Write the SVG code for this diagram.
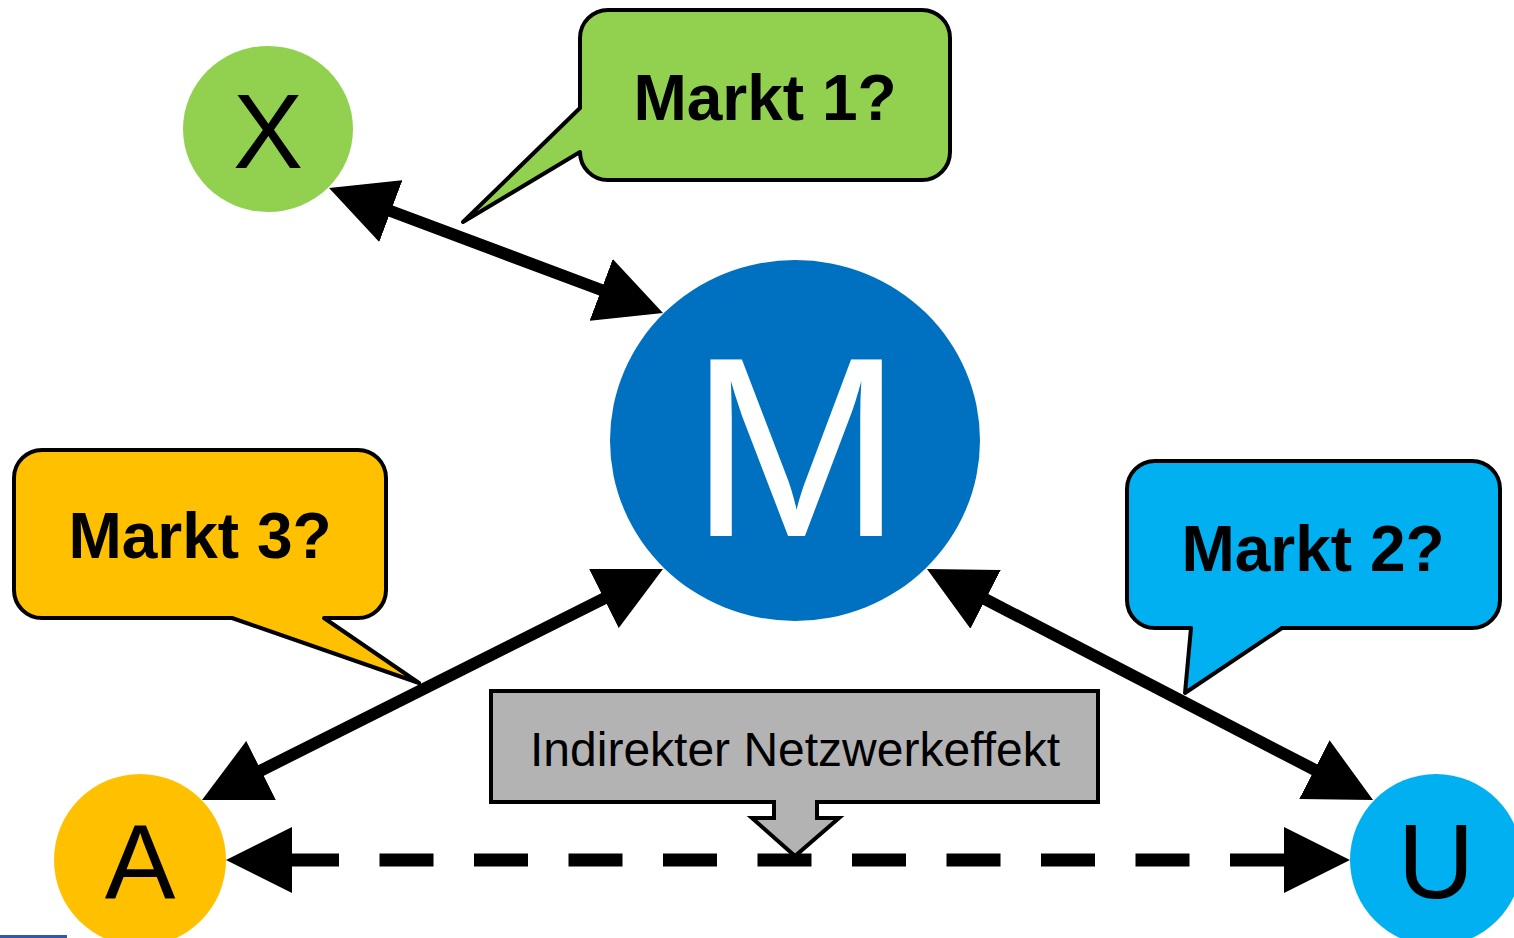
<svg xmlns="http://www.w3.org/2000/svg" width="1514" height="938" viewBox="0 0 1514 938">
<style>
.lbl{font-family:"Liberation Sans",Arial,sans-serif;fill:#000}
.big{font-family:"Liberation Sans",Arial,sans-serif;text-anchor:middle}
.mk{font-family:"Liberation Sans",Arial,sans-serif;font-weight:bold;font-size:64px;text-anchor:middle;fill:#000}
.call{stroke:#000;stroke-width:4;stroke-linejoin:round}
.conn{stroke:#000;stroke-width:12;fill:none}
</style>
<defs>
<marker id="ah" viewBox="0 0 66 66" refX="26" refY="33" markerWidth="66" markerHeight="66" markerUnits="userSpaceOnUse" orient="auto-start-reverse">
<path d="M0,0 L66,33 L0,66 Z" fill="#000"/>
</marker>
</defs>
<rect width="1514" height="938" fill="#fff"/>
<rect x="0" y="935" width="67" height="3" fill="#2e5aa8"/>

<g id="node-X">
<ellipse cx="268" cy="129" rx="85" ry="83" fill="#92d050"/>
<text class="big" x="268" y="168" font-size="105" fill="#000">X</text>
</g>
<g id="node-M">
<ellipse cx="795" cy="440.5" rx="185" ry="180.5" fill="#0070c0"/>
<text class="big" x="796" y="536" font-size="256" fill="#fff">M</text>
</g>
<g id="node-A">
<circle cx="140" cy="860" r="86" fill="#ffc000"/>
<text class="big" x="140" y="898" font-size="106" fill="#000">A</text>
</g>
<g id="node-U">
<circle cx="1436" cy="860" r="86" fill="#00b0f0"/>
<text class="big" x="1436" y="898" font-size="106" fill="#000">U</text>
</g>

<g id="callout-markt1">
<path class="call" fill="#92d050" d="M608,10 H922 A28,28 0 0 1 950,38 V152 A28,28 0 0 1 922,180 H608 A28,28 0 0 1 580,152 L463,222 L580,108 V38 A28,28 0 0 1 608,10 Z"/>
<text class="mk" x="765" y="120">Markt 1?</text>
</g>
<g id="callout-markt2">
<path class="call" fill="#00b0f0" d="M1155,461 H1472 A28,28 0 0 1 1500,489 V600 A28,28 0 0 1 1472,628 H1282 L1185,693 L1191,628 H1155 A28,28 0 0 1 1127,600 V489 A28,28 0 0 1 1155,461 Z"/>
<text class="mk" x="1313" y="571">Markt 2?</text>
</g>
<g id="callout-markt3">
<path class="call" fill="#ffc000" d="M42,450 H358 A28,28 0 0 1 386,478 V590 A28,28 0 0 1 358,618 H324 L419,683 L232,618 H42 A28,28 0 0 1 14,590 V478 A28,28 0 0 1 42,450 Z"/>
<text class="mk" x="200" y="558">Markt 3?</text>
</g>
<g id="callout-netzwerkeffekt">
<path fill="#b3b3b3" stroke="#000" stroke-width="4" stroke-linejoin="miter" d="M491,691 H1098 V802 H817 V818 H839 L795,856 L752,818 H774 V802 H491 Z"/>
<text class="lbl" x="795" y="766" font-size="48" text-anchor="middle" fill="#111">Indirekter Netzwerkeffekt</text>
</g>

<g id="connectors">
<line class="conn" x1="366.5" y1="202" x2="625.5" y2="299" marker-start="url(#ah)" marker-end="url(#ah)"/>
<line class="conn" x1="237.8" y1="782.1" x2="627.2" y2="586.9" marker-start="url(#ah)" marker-end="url(#ah)"/>
<line class="conn" x1="962.5" y1="587.4" x2="1337.5" y2="781.6" marker-start="url(#ah)" marker-end="url(#ah)"/>
<line stroke="#000" stroke-width="13" fill="none" x1="266" y1="860" x2="1310" y2="860" stroke-dasharray="54 40.5" stroke-dashoffset="75.5" marker-start="url(#ah)" marker-end="url(#ah)"/>
</g>
</svg>
